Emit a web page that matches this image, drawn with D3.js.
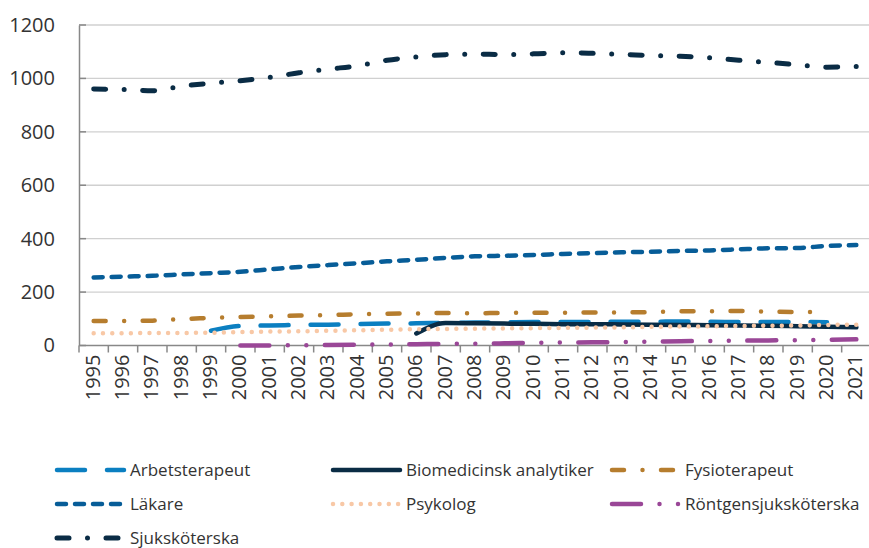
<!DOCTYPE html>
<html>
<head>
<meta charset="utf-8">
<script src="https://cdn.jsdelivr.net/npm/d3@7"></script>
<style>
  html, body { margin: 0; padding: 0; background: #fff; }
  svg { display: block; font-family: "Open Sans", "Noto Sans", sans-serif; }
</style>
</head>
<body>
<svg id="chart" width="869" height="548"></svg>
<script>
const years = ["1995","1996","1997","1998","1999","2000","2001","2002","2003","2004","2005","2006","2007","2008","2009","2010","2011","2012","2013","2014","2015","2016","2017","2018","2019","2020","2021"];
const yTicks = [0, 200, 400, 600, 800, 1000, 1200];

const arbetsterapeut = [null,null,null,null,55,73,75,77,78,80,82,83,85,86,87,88,88,88,89,89,90,89,88,88,88,87,null];
const biomedicinsk = [null,null,null,null,null,null,null,null,null,null,null,45,84,83,82,81,80,80,79,78,77,76,75,74,72,70,68];
const fysioterapeut = [92,92,93,99,103,107,109,112,114,117,119,120,122,121,122,123,123,124,124,125,128,128,129,127,125,126,null];
const lakare = [255,258,261,266,271,276,285,294,301,308,315,321,328,334,336,339,343,346,349,351,354,356,360,364,365,373,376];
const psykolog = [46,46,47,47,48,50,52,53,55,57,59,61,62,63,64,65,66,67,68,70,71,72,73,74,75,77,78];
const rontgen = [null,null,null,null,null,0,0,1,2,3,4,5,6,7,8,10,11,12,13,14,16,17,18,19,20,21,23];
const sjukskoterska = [960,959,954,971,982,991,1004,1021,1035,1047,1068,1080,1089,1091,1089,1092,1096,1094,1090,1086,1083,1077,1068,1060,1051,1042,1045];

const seriesNames = ["Arbetsterapeut","Biomedicinsk analytiker","Fysioterapeut","Läkare","Psykolog","Röntgensjuksköterska","Sjuksköterska"];
const seriesValues = [arbetsterapeut, biomedicinsk, fysioterapeut, lakare, psykolog, rontgen, sjukskoterska];

const styles = {
  "Arbetsterapeut": {color: "#0B7FC1", width: 4.5, dash: "28,22"},
  "Biomedicinsk analytiker": {color: "#0A2C45", width: 4.5, dash: null},
  "Fysioterapeut": {color: "#B67D2E", width: 4.5, dash: "12,18.5,0,18.5"},
  "Läkare": {color: "#075D98", width: 4.5, dash: "9,9"},
  "Psykolog": {color: "#F8C8A6", width: 4.5, dash: "0,9.3"},
  "Röntgensjuksköterska": {color: "#9A4797", width: 4.5, dash: "29,18.5,0,18.5,0,18.5"},
  "Sjuksköterska": {color: "#0A2C45", width: 5, dash: "12,18.5,0,18.5"}
};

const svg = d3.select("#chart");
const margin = {left: 79, right: -2, top: 25, bottom: 202};
const W = 869, H = 548;

const x = d3.scaleBand().domain(years).range([margin.left, W - margin.right]).paddingInner(0).paddingOuter(0);
const y = d3.scaleLinear().domain([0, 1200]).range([345.5, margin.top]);

// gridlines
svg.append("g").selectAll("line").data(yTicks.filter(d => d > 0)).join("line")
  .attr("x1", margin.left).attr("x2", W)
  .attr("y1", d => y(d)).attr("y2", d => y(d))
  .attr("stroke", "#d0d0d0").attr("stroke-width", 1.3);

// y axis
const yAxis = svg.append("g").attr("transform", `translate(${margin.left},0)`)
  .call(d3.axisLeft(y).tickValues(yTicks).tickSize(0).tickPadding(24).tickFormat(d3.format("d")));
yAxis.select(".domain").attr("stroke", "#888").attr("stroke-width", 1.5);
yAxis.selectAll("text").attr("font-size", 20).attr("fill", "#333").attr("font-family", "Open Sans");
// small inner ticks
svg.append("g").selectAll("line").data(yTicks).join("line")
  .attr("x1", margin.left).attr("x2", margin.left + 7)
  .attr("y1", d => y(d)).attr("y2", d => y(d))
  .attr("stroke", "#888").attr("stroke-width", 1.5);

// x axis
const xAxisG = svg.append("g").attr("transform", `translate(0,${y(0)})`);
xAxisG.append("line").attr("x1", margin.left).attr("x2", W).attr("stroke", "#888").attr("stroke-width", 1.5);
const bounds = years.map(d => x(d));
xAxisG.selectAll("line.tk").data(bounds.concat([x(years[years.length-1]) + x.bandwidth()])).join("line")
  .attr("class", "tk").attr("x1", d => d).attr("x2", d => d).attr("y1", 0).attr("y2", 7)
  .attr("stroke", "#888").attr("stroke-width", 1.5);
xAxisG.selectAll("text").data(years).join("text")
  .attr("transform", d => `translate(${x(d) + x.bandwidth()/2 - 1},9) rotate(-90)`)
  .attr("text-anchor", "end").attr("dy", "0.35em")
  .attr("font-size", 20).attr("fill", "#333")
  .text(d => d);

// lines
const line = d3.line()
  .defined(d => d.v !== null)
  .x(d => x(d.year) + x.bandwidth()/2)
  .y(d => y(d.v))
  .curve(d3.curveMonotoneX);

seriesNames.forEach((name, i) => {
  const st = styles[name];
  const data = years.map((yr, j) => ({year: yr, v: seriesValues[i][j]}));
  svg.append("path").datum(data)
    .attr("d", line)
    .attr("fill", "none")
    .attr("stroke", st.color)
    .attr("stroke-width", st.width)
    .attr("stroke-linecap", "round")
    .attr("stroke-linejoin", "round")
    .attr("stroke-dasharray", st.dash);
});

// legend
const legendPos = [
  [55, 470], [331, 470], [610, 470],
  [55, 504], [331, 504], [610, 504],
  [55, 538]
];
seriesNames.forEach((name, i) => {
  const st = styles[name];
  const [lx, ly] = legendPos[i];
  const g = svg.append("g");
  g.append("line").attr("x1", lx + 2).attr("x2", lx + 69).attr("y1", ly).attr("y2", ly)
    .attr("stroke", st.color).attr("stroke-width", st.width)
    .attr("stroke-linecap", "round").attr("stroke-dasharray", st.dash);
  g.append("text").attr("x", lx + 75).attr("y", ly).attr("dy", "0.35em")
    .attr("font-size", 17).attr("fill", "#333").text(name);
});
</script>
</body>
</html>
